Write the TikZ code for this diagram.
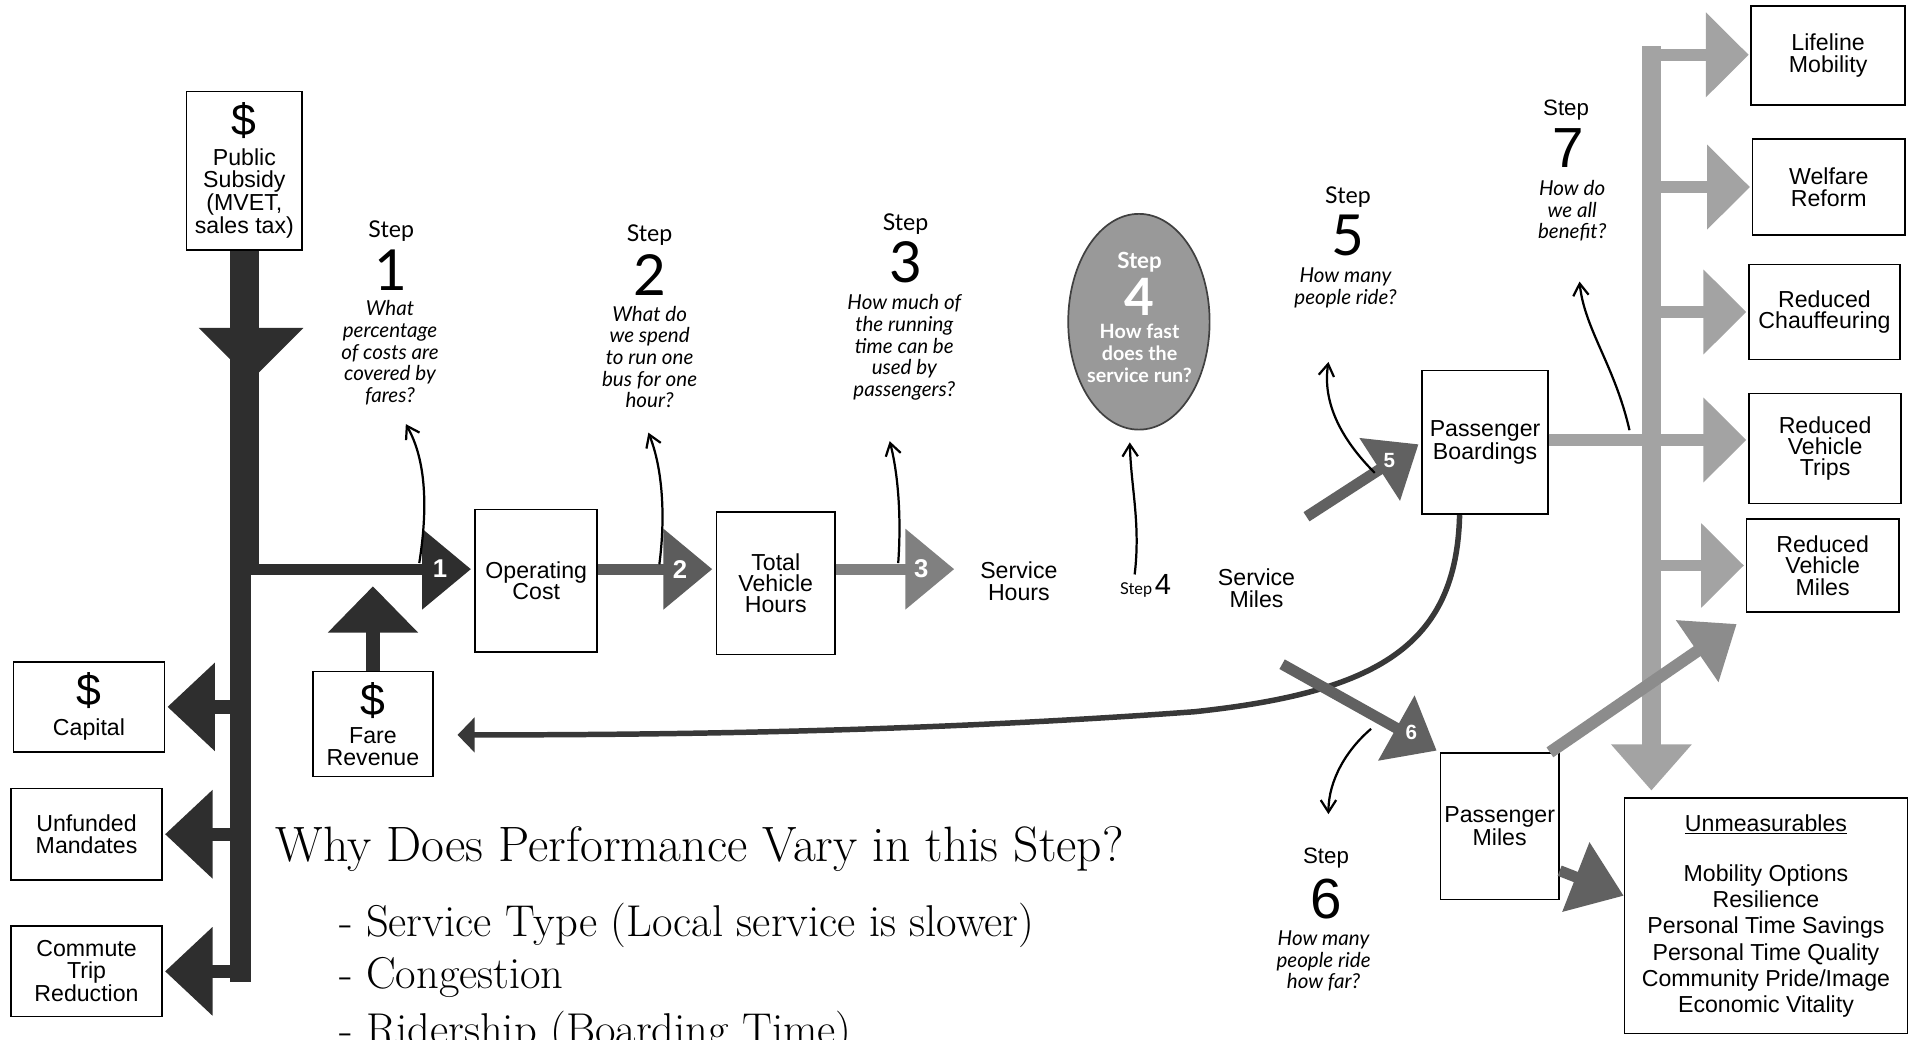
\documentclass[tikz,border=0pt]{standalone}
\usepackage{fontspec}
\newfontfamily\lib{Liberation Sans}
\newfontfamily\lato{Lato}
\usetikzlibrary{arrows.meta,calc,shapes.geometric}
\colorlet{dk}{black!82}
\colorlet{md}{black!62}
\colorlet{lt}{black!36}
\newcommand\bigdollar{{\fontsize{26}{26}\selectfont\$}}
\begin{document}
\begin{tikzpicture}[x=0.025cm,y=-0.025cm,
 box/.style={draw=black, line width=1pt, fill=white, align=center, inner sep=0pt, font=\lib\fontsize{13.5}{12.5}\selectfont},
 lbl/.style={align=center, inner sep=0pt, font=\lib\fontsize{13.5}{12.8}\selectfont},
 stepw/.style={inner sep=0pt, font=\lato\fontsize{13.5}{14}\selectfont},
 stepn/.style={inner sep=0pt, text height=23.5pt, text depth=0pt, font=\lato\fontsize{33}{33}\selectfont},
 stepwh/.style={inner sep=0pt, font=\lib\fontsize{13}{14}\selectfont},
 stepnh/.style={inner sep=0pt, text height=23.5pt, text depth=0pt, font=\lib\fontsize{33}{33}\selectfont},
 quest/.style={align=center, inner sep=0pt, font=\lato\itshape\fontsize{12}{12.6}\selectfont},
 pointer/.style={line width=1.3pt, -{Straight Barb[length=7pt,width=9pt]}},
 steparr/.style={line width=6.4pt, -{Triangle[length=28.5pt,width=45.5pt]}},
 leftarr/.style={dk, line width=7.8pt, -{Triangle[length=27.7pt,width=50pt]}, shorten >=1.2pt},
 rtarr/.style={lt, line width=7pt, -{Triangle[length=25pt,width=48pt]}, shorten >=1pt},
 num/.style={inner sep=0pt, text=white, font=\lib\bfseries\fontsize{15}{15}\selectfont},
 big/.style={inner sep=0pt, anchor=west, font=\fontsize{29}{32}\selectfont},
 bullet/.style={inner sep=0pt, anchor=west, font=\fontsize{26}{30}\selectfont}
]
\useasboundingbox (0,0) rectangle (1568,853);
\clip (0,0) rectangle (1568,853);
\fill[white] (0,0) rectangle (1568,853);

% ---------- boxes ----------
\node[box, minimum width=2.375cm, minimum height=3.25cm] (pub) at (200.5,140) {\bigdollar\\[5pt]Public\\Subsidy\\(MVET,\\sales tax)};
\node[box, minimum width=3.1cm, minimum height=1.85cm] (cap) at (73,580) {\bigdollar\\[5pt]Capital};
\node[box, minimum width=3.1cm, minimum height=1.875cm] (unf) at (71,684.5) {Unfunded\\Mandates};
\node[box, minimum width=3.1cm, minimum height=1.85cm] (ctr) at (71,797) {Commute\\Trip\\Reduction};
\node[box, minimum width=2.45cm, minimum height=2.15cm] (fare) at (306,594) {\bigdollar\\[4pt]Fare\\Revenue};
\node[box, minimum width=2.5cm, minimum height=2.925cm] (opc) at (440,476.5) {Operating\\Cost};
\node[box, minimum width=2.425cm, minimum height=2.925cm] (tvh) at (636.5,478.5) {Total\\Vehicle\\Hours};
\node[box, minimum width=2.575cm, minimum height=2.95cm] (pb) at (1218.5,363) {Passenger\\Boardings};
\node[box, minimum width=2.425cm, minimum height=3cm] (pm) at (1230.5,678) {Passenger\\Miles};
\node[box, minimum width=3.15cm, minimum height=2.025cm] (life) at (1500,45.5) {Lifeline\\Mobility};
\node[box, minimum width=3.125cm, minimum height=1.975cm] (welf) at (1500.5,153.5) {Welfare\\Reform};
\node[box, minimum width=3.1cm, minimum height=1.95cm] (chauf) at (1497,256) {Reduced\\Chauffeuring};
\node[box, minimum width=3.125cm, minimum height=2.25cm] (rvt) at (1497.5,368) {Reduced\\Vehicle\\Trips};
\node[box, minimum width=3.125cm, minimum height=1.9cm] (rvm) at (1495.5,464) {Reduced\\Vehicle\\Miles};
\node[box, minimum width=5.8cm, minimum height=4.825cm, font=\lib\fontsize{13.5}{15.3}\selectfont] (unm) at (1449,751.5)
 {\underline{Unmeasurables}\\[14pt]Mobility Options\\Resilience\\Personal Time Savings\\Personal Time Quality\\Community Pride/Image\\Economic Vitality};

\node[lbl] (sh) at (836,477) {Service\\Hours};
\node[lbl] (sm) at (1031,482.5) {Service\\Miles};

% ---------- step texts ----------
\node[stepw] (s1w) at (321,190) {Step};
\node[stepn] (s1n) at (321,222) {1};
\node[quest] (s1q) at (320,289.5) {What\\percentage\\of costs are\\covered by\\fares?};
\node[stepw] (s2w) at (533,193) {Step};
\node[stepn] (s2n) at (533,226) {2};
\node[quest] (s2q) at (533,293) {What do\\we spend\\to run one\\bus for one\\hour?};
\node[stepw] (s3w) at (743,184) {Step};
\node[stepn] (s3n) at (743,215) {3};
\node[quest] (s3q) at (742,285) {How much of\\the running\\time can be\\used by\\passengers?};
\node[stepw] (s5w) at (1106,162) {Step};
\node[stepn] (s5n) at (1106,193) {5};
\node[quest] (s5q) at (1104,236) {How many\\people ride?};
\node[stepwh] (s6w) at (1088,704) {Step};
\node[stepnh] (s6n) at (1088,737) {6};
\node[quest] (s6q) at (1086,788.5) {How many\\people ride\\how far?};
\node[stepwh] (s7w) at (1285,90) {Step};
\node[stepnh] (s7n) at (1287,121) {7};
\node[quest] (s7q) at (1290,173) {How do\\we all\\benefit?};

% step 4 ellipse
\node[ellipse, fill=black!40, draw=black!75, line width=1pt, minimum width=2.9cm, minimum height=4.425cm, inner sep=0pt] (s4e) at (934.5,264) {};
\node[inner sep=0pt, text=white, font=\lato\bfseries\fontsize{13}{14}\selectfont] (s4ew) at (935,215) {Step};
\node[inner sep=0pt, text=white, text height=21.5pt, text depth=0pt, font=\lato\bfseries\fontsize{30}{30}\selectfont] (s4en) at (935,244) {4};
\node[inner sep=0pt, text=white, align=center, font=\lato\bfseries\fontsize{11.5}{12.8}\selectfont] (s4eq) at (935,290) {How fast\\does the\\service run?};
\node[inner sep=0pt] (s4l) at (940,481) {{\lato\fontsize{9.5}{10}\selectfont Step}\,{\lib\fontsize{17}{17}\selectfont 4}};

% ---------- level coordinates ----------
\coordinate (L) at (0,467);
\coordinate (R) at (0,361);
\coordinate (F) at (0,603);
\coordinate (lb) at (197.5,0);
\coordinate (rb) at (1355,0);
\coordinate (rtop) at (1355,45);
\coordinate (bartop) at (200.5,472);
\coordinate (barend) at (197.5,806);
\coordinate (s5a) at (1072,424);
\coordinate (s6a) at (1052,545);
\coordinate (pmtip) at (1425,512);

% ---------- left funding bar ----------
\draw[dk, line width=17pt] (pub.south) -- (bartop);
\draw[dk, line width=12pt] (lb |- L) -- (barend);
\fill[dk] (163,269) -- (249,269) -- (206,312) -- cycle;
\draw[leftarr] (lb |- cap.east) -- (cap.east);
\draw[leftarr] (lb |- unf.east) -- (unf.east);
\draw[leftarr] (lb |- ctr.east) -- (ctr.east);
\draw[dk, line width=8.5pt, -{Triangle[length=27pt,width=51pt]}, shorten >=10pt] (fare.north) -- (fare.north |- L);

% ---------- main step arrows ----------
\draw[steparr, dk, shorten >=2pt] (pub.south |- L) -- (opc.west |- L);
\draw[steparr, black!64, shorten >=2pt] (opc.east |- L) -- (tvh.west |- L);
\draw[steparr, black!50, shorten >=15pt] (tvh.east |- L) -- (sh.west |- L);
\node[num] at (361,467) {1};
\node[num] at (558,467) {2};
\node[num] at (756,467) {3};

% ---------- fare feedback line ----------
\draw[black!78, line width=3.2pt, -{Triangle[length=10pt,width=20pt]}, shorten >=14pt]
 ($(pb.south west)!0.3!(pb.south east)$) .. controls (1195,530) and (1130,568) .. (980,584)
 .. controls (760,600) and (560,603) .. (fare.east |- F);

% ---------- step 5 / step 6 arrows ----------
\draw[md, line width=6.4pt, -{Triangle[length=27pt,width=42pt]}, shorten >=2pt] (s5a) -- (pb.west);
\draw[md, line width=6.4pt, -{Triangle[length=27pt,width=42pt]}, shorten >=2pt] (s6a) -- (pm.north west);
\node[num, font=\lib\bfseries\fontsize{12}{12}\selectfont] at (1140,378) {5};
\node[num, font=\lib\bfseries\fontsize{12}{12}\selectfont] at (1158,601) {6};

% ---------- benefits ----------
\draw[rtarr] (pb.east |- R) -- (rvt.west |- R);
\draw[lt, line width=10.7pt, line cap=rect, -{Triangle[length=27pt,width=45.5pt]}, shorten >=4pt] (rtop) -- (rb |- unm.north);
\draw[rtarr, line cap=rect] (rtop) -- (life.west |- rtop);
\draw[rtarr] (rb |- welf.west) -- (welf.west);
\draw[rtarr] (rb |- chauf.west) -- (chauf.west);
\draw[rtarr] (rb |- rvm.west) -- (rvm.west);
\draw[black!45, line width=7pt, -{Triangle[length=28pt,width=42pt]}] ($(pm.north east)+(-8,0)$) -- (pmtip);
\draw[md, line width=6.4pt, -{Triangle[length=30pt,width=42pt]}] ($(pm.east)!0.6!(pm.south east)$) -- ($(unm.west)!0.17!(unm.north west)$);

% ---------- question pointers ----------
\draw[pointer] (344,462) .. controls (351,418) and (350,378) .. (333,348);
\draw[pointer] (541,463) .. controls (546,425) and (544,385) .. (532,355);
\draw[pointer] (737,462) .. controls (740,420) and (736,385) .. (730,362);
\draw[pointer] (s4l.north -| 931,0) .. controls (936,430) and (928,400) .. (927,363);
\draw[pointer] (1128,388) .. controls (1100,360) and (1085,330) .. (1090,297);
\draw[pointer] (1337,353) .. controls (1325,300) and (1300,270) .. (1296,231);
\draw[pointer] (1125,598) .. controls (1105,615) and (1090,640) .. (1090,668);

% ---------- text ----------
\node[big] (why) at (226,697) {Why Does Performance Vary in this Step?};
\node[bullet] (b1) at (278,759) {- Service Type (Local service is slower)};
\node[bullet] (b2) at (278,802) {- Congestion};
\node[bullet] (b3) at (278,848) {- Ridership (Boarding Time)};
\end{tikzpicture}
\end{document}
